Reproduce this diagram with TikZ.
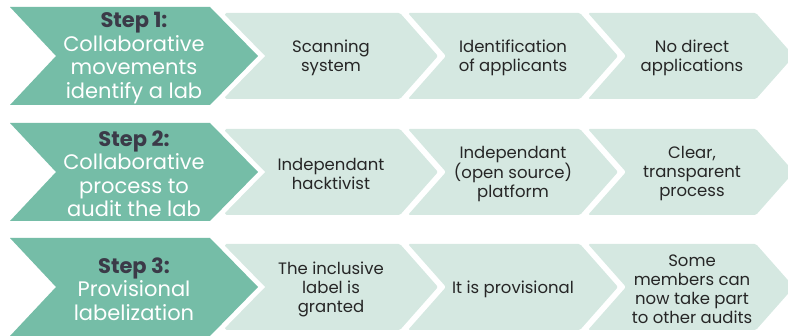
\documentclass[tikz,border=0pt]{standalone}
\usepackage{fontspec}
\setmainfont{Poppins}
\definecolor{darkgreen}{HTML}{75BDA7}
\definecolor{lightgreen}{HTML}{D5E8E1}
\definecolor{steptext}{HTML}{3B3A48}
\definecolor{bodytext}{HTML}{262626}
\tikzset{
  darkhalo/.style={draw=white, line width=10pt, line join=miter, miter limit=10},
  darkchev/.style={fill=darkgreen},
  lightchev/.style={fill=lightgreen, rounded corners=1.5pt},
  darklabel/.style={align=center, text=white, inner sep=0pt,
    font=\fontsize{21}{23.5}\selectfont},
  lightlabel/.style={align=center, text=bodytext, inner sep=0pt,
    font=\fontsize{16.5}{19}\selectfont},
}
\newcommand{\stepline}[1]{{\bfseries\color{steptext}#1}}
\begin{document}
\begin{tikzpicture}[x=1pt,y=-1pt]
\useasboundingbox (0,0) rectangle (788,336);
\clip (0,0) rectangle (788,336);
\foreach \c/\r in {56/1,172/2,287/3}{
  % light chevrons
  \path[lightchev] (225,\c-43) -- (400,\c-43) -- (438,\c) -- (400,\c+43) -- (225,\c+43) -- cycle;
  \path[lightchev] (408,\c-43) -- (580,\c-43) -- (618,\c) -- (580,\c+43) -- (408,\c+43) -- (446,\c) -- cycle;
  \path[lightchev] (588,\c-43) -- (756,\c-43) -- (794,\c) -- (756,\c+43) -- (588,\c+43) -- (626,\c) -- cycle;
  % dark chevron with white halo
  \path[darkhalo] (10,\c-49) -- (210,\c-49) -- (258,\c) -- (210,\c+49) -- (10,\c+49) -- (56,\c) -- cycle;
  \path[darkchev] (10,\c-49) -- (210,\c-49) -- (258,\c) -- (210,\c+49) -- (10,\c+49) -- (56,\c) -- cycle;
  \coordinate (s\r) at (134,\c+2);
  \coordinate (a\r) at (331,\c+2);
  \coordinate (b\r) at (513,\c+2);
  \coordinate (d\r) at (692,\c+2);
}
% row 1
\node[darklabel] (step1) at (s1) {\stepline{Step 1:}\\Collaborative\\movements\\identify a lab};
\node[lightlabel] (t11) at (a1) {Scanning\\system};
\node[lightlabel] (t12) at (b1) {Identification\\of applicants};
\node[lightlabel] (t13) at (d1) {No direct\\applications};
% row 2
\node[darklabel] (step2) at (s2) {\stepline{Step 2:}\\Collaborative\\process to\\audit the lab};
\node[lightlabel] (t21) at (a2) {Independant\\hacktivist};
\node[lightlabel] (t22) at (b2) {Independant\\(open source)\\platform};
\node[lightlabel] (t23) at (d2) {Clear,\\transparent\\process};
% row 3
\node[darklabel] (step3) at (s3) {\stepline{Step 3:}\\Provisional\\labelization};
\node[lightlabel] (t31) at (a3) {The inclusive\\label is\\granted};
\node[lightlabel] (t32) at (b3) {It is provisional};
\node[lightlabel] (t33) at (d3) {Some\\members can\\now take part\\to other audits};
\end{tikzpicture}
\end{document}
